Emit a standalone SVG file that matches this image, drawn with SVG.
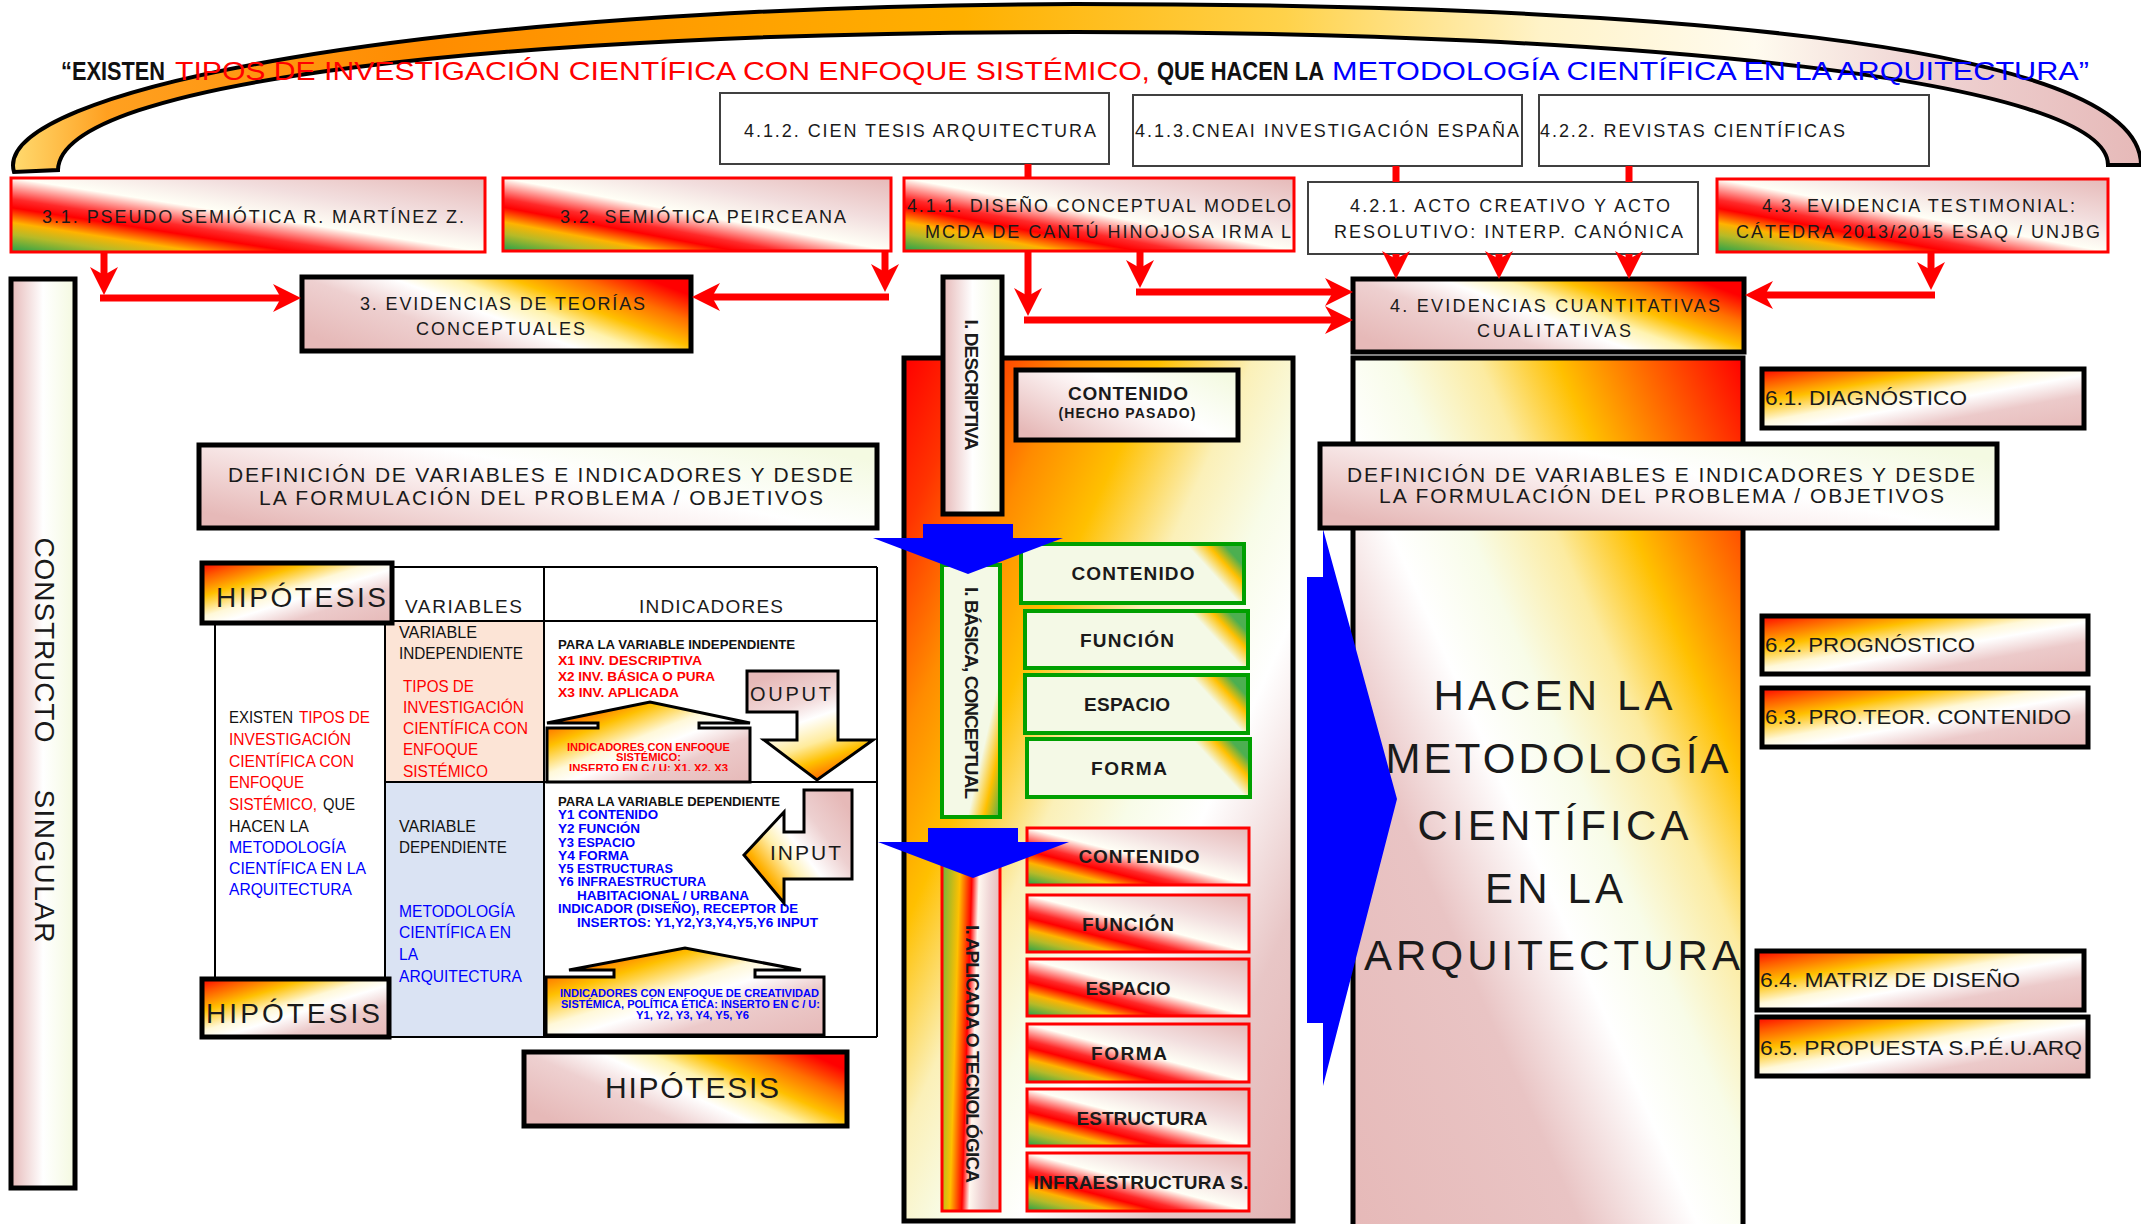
<svg xmlns="http://www.w3.org/2000/svg" width="2141" height="1224" viewBox="0 0 2141 1224">
<defs>
<style>
text{font-family:"Liberation Sans",Arial,sans-serif;fill:#1a1a1a}
.b{font-weight:bold}
.r{fill:#FF0000}
.bl{fill:#0000FF}
.k{fill:#111}
.bx{stroke:#000;stroke-width:5}
.rb{stroke:#FF0000;stroke-width:3}
.gb{stroke:#00A000;stroke-width:4}
.wb{fill:#fff;stroke:#404040;stroke-width:2}
.con{stroke:#FF0000;stroke-width:7;fill:none}
.conm{stroke:#FF0000;stroke-width:7;fill:none;marker-end:url(#ah)}
.tl{stroke:#000;stroke-width:2;fill:none}
.blue{fill:#0000FF}
.lab{font-size:18px}
.def{font-size:21px}
.six{font-size:20px}
.mid{font-size:19px;font-weight:bold;text-anchor:middle}
</style>
<marker id="ah" markerUnits="userSpaceOnUse" markerWidth="30" markerHeight="28" viewBox="0 0 30 28" refX="18" refY="14" orient="auto"><path d="M0,0 L28,14 L0,28 L8,14 Z" fill="#FF0000"/></marker>
<linearGradient id="gArc" gradientUnits="userSpaceOnUse" x1="0" y1="0" x2="2141" y2="0">
<stop offset="0" stop-color="#FFE27A"/><stop offset="0.05" stop-color="#FFA020"/><stop offset="0.2" stop-color="#FF8C00"/><stop offset="0.45" stop-color="#FFB000"/><stop offset="0.6" stop-color="#FFD24A"/><stop offset="0.72" stop-color="#FFF3C8"/><stop offset="0.82" stop-color="#FFFBEF"/><stop offset="0.9" stop-color="#EFD3D3"/><stop offset="1" stop-color="#E6B9B8"/>
</linearGradient>
<linearGradient id="gRain" x1="0" y1="1" x2="1" y2="0">
<stop offset="0" stop-color="#22A04B"/><stop offset="0.12" stop-color="#B5BA28"/><stop offset="0.2" stop-color="#FFB300"/><stop offset="0.3" stop-color="#FF0000"/><stop offset="0.36" stop-color="#FF2A2A"/><stop offset="0.5" stop-color="#FFFFF6"/><stop offset="0.7" stop-color="#F2DEDE"/><stop offset="1" stop-color="#E6B9B8"/>
</linearGradient>
<linearGradient id="gPWh" x1="0" y1="0" x2="1" y2="0">
<stop offset="0" stop-color="#E6B9B8"/><stop offset="0.5" stop-color="#FFFFFF"/><stop offset="1" stop-color="#F4F9E0"/>
</linearGradient>
<linearGradient id="gPWd" x1="0" y1="0.8" x2="1" y2="0.2">
<stop offset="0" stop-color="#E6B9B8"/><stop offset="0.45" stop-color="#FBF1F1"/><stop offset="0.6" stop-color="#FFFFFF"/><stop offset="1" stop-color="#F4FAE2"/>
</linearGradient>
<linearGradient id="gP2R" x1="0" y1="0.75" x2="1" y2="0.25">
<stop offset="0" stop-color="#E6B9B8"/><stop offset="0.3" stop-color="#EED0D0"/><stop offset="0.48" stop-color="#FFFFFF"/><stop offset="0.6" stop-color="#FFF3B0"/><stop offset="0.72" stop-color="#FFC000"/><stop offset="0.86" stop-color="#FF7000"/><stop offset="1" stop-color="#FF0000"/>
</linearGradient>
<linearGradient id="gR2P" x1="0" y1="0" x2="1" y2="1">
<stop offset="0" stop-color="#FF0000"/><stop offset="0.12" stop-color="#FF5A00"/><stop offset="0.28" stop-color="#FFC000"/><stop offset="0.45" stop-color="#FFF8D8"/><stop offset="0.55" stop-color="#FFFFFF"/><stop offset="0.72" stop-color="#ECCACA"/><stop offset="1" stop-color="#E6B9B8"/>
</linearGradient>
<linearGradient id="gMid" x1="0" y1="0" x2="1" y2="1">
<stop offset="0" stop-color="#FF0000"/><stop offset="0.1" stop-color="#FF3300"/><stop offset="0.22" stop-color="#FF8C00"/><stop offset="0.33" stop-color="#FFC000"/><stop offset="0.45" stop-color="#FBF0B8"/><stop offset="0.55" stop-color="#F8FCE8"/><stop offset="0.65" stop-color="#FFFFFF"/><stop offset="0.82" stop-color="#E8C6C6"/><stop offset="1" stop-color="#E3B4B4"/>
</linearGradient>
<linearGradient id="gHacen" x1="0" y1="1" x2="1" y2="0">
<stop offset="0" stop-color="#E6B9B8"/><stop offset="0.3" stop-color="#E9C4C4"/><stop offset="0.45" stop-color="#FFFFFF"/><stop offset="0.55" stop-color="#F8FCE8"/><stop offset="0.66" stop-color="#FCEBA0"/><stop offset="0.76" stop-color="#FFC000"/><stop offset="0.88" stop-color="#FF6000"/><stop offset="1" stop-color="#FF0000"/>
</linearGradient>
<linearGradient id="gGreen" x1="0" y1="0.62" x2="1" y2="0.38">
<stop offset="0" stop-color="#F4F9E6"/><stop offset="0.84" stop-color="#F4F9E6"/><stop offset="0.93" stop-color="#FFC000"/><stop offset="1" stop-color="#4CAF50"/>
</linearGradient>
<linearGradient id="gGreenV" x1="0" y1="0" x2="1" y2="1">
<stop offset="0" stop-color="#F4F9E6"/><stop offset="0.72" stop-color="#F4F9E6"/><stop offset="0.86" stop-color="#FFC000"/><stop offset="1" stop-color="#4CAF50"/>
</linearGradient>
<linearGradient id="gApl" x1="0" y1="0.1" x2="1" y2="0.3">
<stop offset="0" stop-color="#6DB33F"/><stop offset="0.3" stop-color="#FFC000"/><stop offset="0.5" stop-color="#FF0000"/><stop offset="0.62" stop-color="#FFF8F0"/><stop offset="0.8" stop-color="#F0D6D6"/><stop offset="1" stop-color="#E6B9B8"/>
</linearGradient>
<linearGradient id="gOut" x1="0.3" y1="0" x2="0.7" y2="1">
<stop offset="0" stop-color="#E6B9B8"/><stop offset="0.3" stop-color="#F2DADA"/><stop offset="0.45" stop-color="#FFFFFF"/><stop offset="0.65" stop-color="#FFEB9C"/><stop offset="0.8" stop-color="#FFC000"/><stop offset="1" stop-color="#FF5000"/>
</linearGradient>
<linearGradient id="gIn" x1="0" y1="1" x2="1" y2="0.2">
<stop offset="0" stop-color="#FF1A00"/><stop offset="0.25" stop-color="#FFB000"/><stop offset="0.42" stop-color="#FFF0B0"/><stop offset="0.55" stop-color="#FFFFFF"/><stop offset="0.75" stop-color="#EDD0D0"/><stop offset="1" stop-color="#E6B9B8"/>
</linearGradient>
<clipPath id="clipUp1"><rect x="547" y="728" width="203" height="43"/></clipPath>
</defs>

<g id="arc">
<path d="M14,172 C-10,90 420,6 1075,4 C1630,4 2141,40 2141,165 L2108,165 C2108,80 1640,32 1075,32 C510,32 60,80 58,170 Z" fill="url(#gArc)" stroke="#000" stroke-width="4"/>
</g>

<g id="title">
<text y="80" font-size="25" x="61" class="b k" textLength="104" lengthAdjust="spacingAndGlyphs">“EXISTEN</text>
<text y="80" font-size="25" class="r" x="175" textLength="975" lengthAdjust="spacingAndGlyphs">TIPOS DE INVESTIGACIÓN CIENTÍFICA CON ENFOQUE SISTÉMICO,</text>
<text y="80" font-size="25" class="b k" x="1157" textLength="167" lengthAdjust="spacingAndGlyphs">QUE HACEN LA</text>
<text y="80" font-size="25" class="bl" x="1332" textLength="757" lengthAdjust="spacingAndGlyphs">METODOLOGÍA CIENTÍFICA EN LA ARQUITECTURA”</text>
</g>

<g id="n412"><rect class="wb" x="720" y="93" width="389" height="71"/><text class="lab" x="744" y="137" textLength="352">4.1.2. CIEN TESIS ARQUITECTURA</text></g>
<g id="n413"><rect class="wb" x="1133" y="95" width="389" height="71"/><text class="lab" x="1135" y="137" textLength="384">4.1.3.CNEAI INVESTIGACIÓN ESPAÑA</text></g>
<g id="n422"><rect class="wb" x="1539" y="95" width="390" height="71"/><text class="lab" x="1540" y="137" textLength="305">4.2.2. REVISTAS CIENTÍFICAS</text></g>

<g id="n31"><rect class="rb" fill="url(#gRain)" x="11" y="178" width="474" height="74"/><text class="lab" x="42" y="223" textLength="422">3.1. PSEUDO SEMIÓTICA R. MARTÍNEZ Z.</text></g>
<g id="n32"><rect class="rb" fill="url(#gRain)" x="503" y="178" width="388" height="73"/><text class="lab" x="560" y="223" textLength="286">3.2. SEMIÓTICA PEIRCEANA</text></g>
<g id="n411"><rect class="rb" fill="url(#gRain)" x="904" y="178" width="390" height="73"/><text class="lab" x="907" y="212" textLength="384">4.1.1. DISEÑO CONCEPTUAL MODELO</text><text class="lab" x="925" y="238" textLength="366">MCDA DE CANTÚ HINOJOSA IRMA L</text></g>
<g id="n421"><rect class="wb" x="1308" y="182" width="390" height="72"/><text class="lab" x="1350" y="212" textLength="320">4.2.1. ACTO CREATIVO Y ACTO</text><text class="lab" x="1334" y="238" textLength="349">RESOLUTIVO: INTERP. CANÓNICA</text></g>
<g id="n43"><rect class="rb" fill="url(#gRain)" x="1717" y="179" width="391" height="73"/><text class="lab" x="1762" y="212" textLength="313">4.3. EVIDENCIA TESTIMONIAL:</text><text class="lab" x="1736" y="238" textLength="364">CÁTEDRA 2013/2015 ESAQ / UNJBG</text></g>

<g id="n3"><rect class="bx" fill="url(#gP2R)" x="302" y="277" width="389" height="74"/><text class="lab" x="360" y="310" textLength="285">3. EVIDENCIAS DE TEORÍAS</text><text class="lab" x="416" y="335" textLength="169">CONCEPTUALES</text></g>
<g id="n4"><rect class="bx" fill="url(#gP2R)" x="1353" y="279" width="391" height="73"/><text class="lab" x="1390" y="312" textLength="330">4. EVIDENCIAS CUANTITATIVAS</text><text class="lab" x="1477" y="337" textLength="154">CUALITATIVAS</text></g>

<g id="constructo"><rect class="bx" stroke-width="4" fill="url(#gPWh)" x="11" y="279" width="64" height="909"/>
<text font-size="28" transform="translate(45,640) rotate(90)" x="0" y="10" text-anchor="middle" textLength="205">CONSTRUCTO</text>
<text font-size="28" transform="translate(45,866) rotate(90)" x="0" y="10" text-anchor="middle" textLength="153">SINGULAR</text></g>

<g id="defL"><rect class="bx" fill="url(#gPWd)" x="199" y="445" width="678" height="83"/><text class="def" x="228" y="482" textLength="625">DEFINICIÓN DE VARIABLES E INDICADORES Y DESDE</text><text class="def" x="259" y="505" textLength="564">LA FORMULACIÓN DEL PROBLEMA / OBJETIVOS</text></g>

<g id="tabla">
<rect x="215" y="621" width="170" height="359" fill="#fff"/>
<rect x="385" y="621" width="159" height="161" fill="#FCE4D6"/>
<rect x="385" y="782" width="159" height="255" fill="#DAE3F3"/>
<rect x="544" y="621" width="333" height="416" fill="#fff"/>
<path class="tl" d="M392,567 H877 M385,621 H877 M385,782 H877 M385,1037 H877 M544,567 V1037 M877,567 V1037 M385,621 V1037 M215,623 V980"/>
<text font-size="19" x="405" y="613" textLength="117">VARIABLES</text>
<text font-size="19" x="639" y="613" textLength="144">INDICADORES</text>
<g font-size="16.5">
<text class="k" x="229" y="723" textLength="64" lengthAdjust="spacingAndGlyphs">EXISTEN</text>
<text class="r" x="299" y="723" textLength="71" lengthAdjust="spacingAndGlyphs">TIPOS DE</text>
<text class="r" x="229" y="745" textLength="122" lengthAdjust="spacingAndGlyphs">INVESTIGACIÓN</text>
<text class="r" x="229" y="767" textLength="125" lengthAdjust="spacingAndGlyphs">CIENTÍFICA CON</text>
<text class="r" x="229" y="788" textLength="75" lengthAdjust="spacingAndGlyphs">ENFOQUE</text>
<text class="r" x="229" y="810" textLength="88" lengthAdjust="spacingAndGlyphs">SISTÉMICO,</text>
<text class="k" x="323" y="810" textLength="32" lengthAdjust="spacingAndGlyphs">QUE</text>
<text class="k" x="229" y="832" textLength="80" lengthAdjust="spacingAndGlyphs">HACEN LA</text>
<text class="bl" x="229" y="853" textLength="117" lengthAdjust="spacingAndGlyphs">METODOLOGÍA</text>
<text class="bl" x="229" y="874" textLength="137" lengthAdjust="spacingAndGlyphs">CIENTÍFICA EN LA</text>
<text class="bl" x="229" y="895" textLength="123" lengthAdjust="spacingAndGlyphs">ARQUITECTURA</text>
</g>
<g font-size="17">
<text class="k" x="399" y="638" textLength="78" lengthAdjust="spacingAndGlyphs">VARIABLE</text>
<text class="k" x="399" y="659" textLength="124" lengthAdjust="spacingAndGlyphs">INDEPENDIENTE</text>
<text class="r" x="403" y="692" textLength="71" lengthAdjust="spacingAndGlyphs">TIPOS DE</text>
<text class="r" x="403" y="713" textLength="121" lengthAdjust="spacingAndGlyphs">INVESTIGACIÓN</text>
<text class="r" x="403" y="734" textLength="125" lengthAdjust="spacingAndGlyphs">CIENTÍFICA CON</text>
<text class="r" x="403" y="755" textLength="75" lengthAdjust="spacingAndGlyphs">ENFOQUE</text>
<text class="r" x="403" y="777" textLength="85" lengthAdjust="spacingAndGlyphs">SISTÉMICO</text>
<text class="k" x="399" y="832" textLength="77" lengthAdjust="spacingAndGlyphs">VARIABLE</text>
<text class="k" x="399" y="853" textLength="108" lengthAdjust="spacingAndGlyphs">DEPENDIENTE</text>
<text class="bl" x="399" y="917" textLength="116" lengthAdjust="spacingAndGlyphs">METODOLOGÍA</text>
<text class="bl" x="399" y="938" textLength="112" lengthAdjust="spacingAndGlyphs">CIENTÍFICA EN</text>
<text class="bl" x="399" y="960" textLength="19" lengthAdjust="spacingAndGlyphs">LA</text>
<text class="bl" x="399" y="982" textLength="123" lengthAdjust="spacingAndGlyphs">ARQUITECTURA</text>
</g>
<g font-size="13.5" font-weight="bold">
<text class="k" x="558" y="649" textLength="237" lengthAdjust="spacingAndGlyphs">PARA LA VARIABLE INDEPENDIENTE</text>
<text class="r" x="558" y="665" textLength="144" lengthAdjust="spacingAndGlyphs">X1 INV.  DESCRIPTIVA</text>
<text class="r" x="558" y="681" textLength="157" lengthAdjust="spacingAndGlyphs">X2 INV. BÁSICA O PURA</text>
<text class="r" x="558" y="697" textLength="121" lengthAdjust="spacingAndGlyphs">X3 INV. APLICADA</text>
</g>
<g font-size="13" font-weight="bold">
<text class="k" x="558" y="806" textLength="222" lengthAdjust="spacingAndGlyphs">PARA LA VARIABLE DEPENDIENTE</text>
<text class="bl" x="558" y="819" textLength="100" lengthAdjust="spacingAndGlyphs">Y1 CONTENIDO</text>
<text class="bl" x="558" y="833" textLength="82" lengthAdjust="spacingAndGlyphs">Y2 FUNCIÓN</text>
<text class="bl" x="558" y="847" textLength="77" lengthAdjust="spacingAndGlyphs">Y3 ESPACIO</text>
<text class="bl" x="558" y="860" textLength="71" lengthAdjust="spacingAndGlyphs">Y4 FORMA</text>
<text class="bl" x="558" y="873" textLength="115" lengthAdjust="spacingAndGlyphs">Y5 ESTRUCTURAS</text>
<text class="bl" x="558" y="886" textLength="148" lengthAdjust="spacingAndGlyphs">Y6 INFRAESTRUCTURA</text>
<text class="bl" x="577" y="900" textLength="172" lengthAdjust="spacingAndGlyphs">HABITACIONAL / URBANA</text>
<text class="bl" x="558" y="913" textLength="240" lengthAdjust="spacingAndGlyphs">INDICADOR (DISEÑO), RECEPTOR DE</text>
<text class="bl" x="577" y="927" textLength="241" lengthAdjust="spacingAndGlyphs">INSERTOS: Y1,Y2,Y3,Y4,Y5,Y6  INPUT</text>
</g>
</g>

<g id="hipTop"><rect class="bx" fill="url(#gR2P)" x="202" y="563" width="190" height="60"/><text font-size="28" x="216" y="607" textLength="170">HIPÓTESIS</text></g>
<g id="hipLow"><rect class="bx" fill="url(#gR2P)" x="202" y="979" width="187" height="58"/><text font-size="28" x="206" y="1023" textLength="174">HIPÓTESIS</text></g>

<g id="upX">
<path d="M547,723 L650,702 L750,723 L699,723 L699,728 L750,728 L750,782 L547,782 L547,728 L598,728 L598,723 Z" fill="url(#gR2P)" stroke="#000" stroke-width="3"/>
<g clip-path="url(#clipUp1)" font-size="11.5" font-weight="bold">
<text class="r" x="567" y="751" textLength="163" lengthAdjust="spacingAndGlyphs">INDICADORES CON ENFOQUE</text>
<text class="r" x="616" y="761" textLength="65" lengthAdjust="spacingAndGlyphs">SISTÉMICO:</text>
<text class="r" x="569" y="772" textLength="159" lengthAdjust="spacingAndGlyphs">INSERTO EN C / U: X1, X2, X3</text>
</g>
</g>
<g id="ouput"><path d="M747,671 L838,671 L838,740 L873,740 L817,780 L764,740 L797,740 L797,712 L747,712 Z" fill="url(#gOut)" stroke="#000" stroke-width="3"/><text font-size="20" x="750" y="701" textLength="81">OUPUT</text></g>
<g id="input"><path d="M804,790 L852,790 L852,879 L784,879 L784,903 L744,855 L784,812 L784,832 L804,832 Z" fill="url(#gIn)" stroke="#000" stroke-width="3"/><text font-size="21" x="770" y="860" textLength="71">INPUT</text></g>
<g id="upY">
<path d="M569,970 L685,948 L801,970 L755,970 L755,977 L824,977 L824,1035 L546,1035 L546,977 L614,977 L614,970 Z" fill="url(#gR2P)" stroke="#000" stroke-width="3"/>
<g font-size="11.5" font-weight="bold">
<text class="bl" x="560" y="997" textLength="259" lengthAdjust="spacingAndGlyphs">INDICADORES CON ENFOQUE DE CREATIVIDAD</text>
<text class="bl" x="561" y="1008" textLength="259" lengthAdjust="spacingAndGlyphs">SISTÉMICA, POLÍTICA ÉTICA: INSERTO EN C / U:</text>
<text class="bl" x="636" y="1019" textLength="113" lengthAdjust="spacingAndGlyphs">Y1, Y2, Y3, Y4, Y5, Y6</text>
</g>
</g>
<g id="hipBig"><rect class="bx" fill="url(#gP2R)" x="524" y="1052" width="323" height="74"/><text font-size="30" x="692" y="1098" text-anchor="middle" textLength="174">HIPÓTESIS</text></g>

<g id="middle">
<rect class="bx" stroke-width="4" fill="url(#gMid)" x="904" y="358" width="389" height="863"/>
</g>
<g id="descriptiva"><rect class="bx" fill="url(#gPWh)" x="943" y="277" width="59" height="237"/><text font-size="19" class="b" transform="translate(972,385) rotate(90)" x="0" y="7" text-anchor="middle" textLength="131">I. DESCRIPTIVA</text></g>
<g id="hecho"><rect class="bx" fill="url(#gPWd)" x="1016" y="370" width="222" height="70"/><text class="mid" x="1128" y="400" textLength="120">CONTENIDO</text><text class="b" font-size="14" x="1127" y="418" text-anchor="middle" textLength="137">(HECHO PASADO)</text></g>
<g id="basica"><rect class="gb" fill="url(#gGreenV)" x="942" y="565" width="58" height="252"/><text font-size="19" class="b" transform="translate(972,693) rotate(90)" x="0" y="7" text-anchor="middle" textLength="212">I. BÁSICA, CONCEPTUAL</text></g>
<g id="gContenido"><rect class="gb" fill="url(#gGreen)" x="1021" y="544" width="223" height="59"/><text class="mid" x="1133" y="580" textLength="123">CONTENIDO</text></g>
<g id="gFuncion"><rect class="gb" fill="url(#gGreen)" x="1025" y="611" width="223" height="57"/><text class="mid" x="1127" y="647" textLength="94">FUNCIÓN</text></g>
<g id="gEspacio"><rect class="gb" fill="url(#gGreen)" x="1025" y="675" width="223" height="58"/><text class="mid" x="1127" y="711" textLength="86">ESPACIO</text></g>
<g id="gForma"><rect class="gb" fill="url(#gGreen)" x="1027" y="739" width="223" height="58"/><text class="mid" x="1129" y="775" textLength="76">FORMA</text></g>
<g id="aplicada"><rect class="rb" fill="url(#gApl)" x="942" y="830" width="58" height="381"/><text font-size="19" class="b" transform="translate(973,1054) rotate(90)" x="0" y="7" text-anchor="middle" textLength="258">I. APLICADA O TECNOLÓGICA</text></g>
<g id="rContenido"><rect class="rb" fill="url(#gRain)" x="1027" y="828" width="222" height="57"/><text class="mid" x="1139" y="863" textLength="121">CONTENIDO</text></g>
<g id="rFuncion"><rect class="rb" fill="url(#gRain)" x="1027" y="895" width="222" height="57"/><text class="mid" x="1128" y="931" textLength="92">FUNCIÓN</text></g>
<g id="rEspacio"><rect class="rb" fill="url(#gRain)" x="1027" y="959" width="222" height="57"/><text class="mid" x="1128" y="995" textLength="85">ESPACIO</text></g>
<g id="rForma"><rect class="rb" fill="url(#gRain)" x="1027" y="1024" width="222" height="58"/><text class="mid" x="1129" y="1060" textLength="76">FORMA</text></g>
<g id="rEstructura"><rect class="rb" fill="url(#gRain)" x="1027" y="1089" width="222" height="57"/><text class="mid" x="1142" y="1125" textLength="131">ESTRUCTURA</text></g>
<g id="rInfra"><rect class="rb" fill="url(#gRain)" x="1027" y="1153" width="222" height="58"/><text class="mid" x="1141" y="1189" textLength="215">INFRAESTRUCTURA S.</text></g>
<g id="blueArrow1"><polygon class="blue" points="923,524 1013,524 1013,538 1063,538 968,574 873,538 923,538"/></g>
<g id="blueArrow2"><polygon class="blue" points="928,828 1018,828 1018,842 1069,842 973,878 878,842 928,842"/></g>

<g id="hacen"><rect class="bx" stroke-width="4" fill="url(#gHacen)" x="1353" y="358" width="390" height="880"/>
<g font-size="42" text-anchor="middle">
<text x="1553" y="710" textLength="239">HACEN LA</text>
<text x="1557" y="773" textLength="343">METODOLOGÍA</text>
<text x="1553" y="840" textLength="271">CIENTÍFICA</text>
<text x="1554" y="903" textLength="138">EN LA</text>
<text x="1552" y="970" textLength="376">ARQUITECTURA</text>
</g></g>
<g id="blueArrowBig"><polygon class="blue" points="1323,529 1397,799 1323,1086 1323,1023 1307,1023 1307,577 1323,577"/></g>
<g id="defR"><rect class="bx" fill="url(#gPWd)" x="1320" y="444" width="677" height="84"/><text class="def" x="1347" y="482" textLength="628">DEFINICIÓN DE VARIABLES E INDICADORES Y DESDE</text><text class="def" x="1379" y="503" textLength="565">LA FORMULACIÓN DEL PROBLEMA / OBJETIVOS</text></g>

<g id="n61"><rect class="bx" fill="url(#gR2P)" x="1762" y="369" width="322" height="59"/><text class="six" x="1765" y="405" textLength="202" lengthAdjust="spacingAndGlyphs">6.1. DIAGNÓSTICO</text></g>
<g id="n62"><rect class="bx" fill="url(#gR2P)" x="1762" y="616" width="326" height="58"/><text class="six" x="1765" y="652" textLength="210" lengthAdjust="spacingAndGlyphs">6.2. PROGNÓSTICO</text></g>
<g id="n63"><rect class="bx" fill="url(#gR2P)" x="1762" y="688" width="326" height="59"/><text class="six" x="1765" y="724" textLength="306" lengthAdjust="spacingAndGlyphs">6.3. PRO.TEOR. CONTENIDO</text></g>
<g id="n64"><rect class="bx" fill="url(#gR2P)" x="1757" y="951" width="327" height="59"/><text class="six" x="1760" y="987" textLength="260" lengthAdjust="spacingAndGlyphs">6.4. MATRIZ DE DISEÑO</text></g>
<g id="n65"><rect class="bx" fill="url(#gR2P)" x="1757" y="1017" width="331" height="59"/><text class="six" x="1760" y="1055" textLength="322" lengthAdjust="spacingAndGlyphs">6.5. PROPUESTA S.P.É.U.ARQ</text></g>

<g id="connectors">
<path class="conm" d="M104,252 V285"/>
<path class="conm" d="M100,298 H291"/>
<path class="conm" d="M885,251 V282"/>
<path class="conm" d="M889,297 H702"/>
<path class="con" d="M1028,164 V178"/>
<path class="conm" d="M1028,251 V306"/>
<path class="conm" d="M1024,320 H1343"/>
<path class="conm" d="M1140,251 V278"/>
<path class="conm" d="M1136,292 H1343"/>
<path class="con" d="M1396,166 V182"/>
<path class="con" d="M1629,166 V182"/>
<path class="conm" d="M1396,254 V269"/>
<path class="conm" d="M1499,254 V269"/>
<path class="conm" d="M1629,254 V269"/>
<path class="conm" d="M1931,252 V280"/>
<path class="conm" d="M1935,295 H1755"/>
</g>
</svg>
